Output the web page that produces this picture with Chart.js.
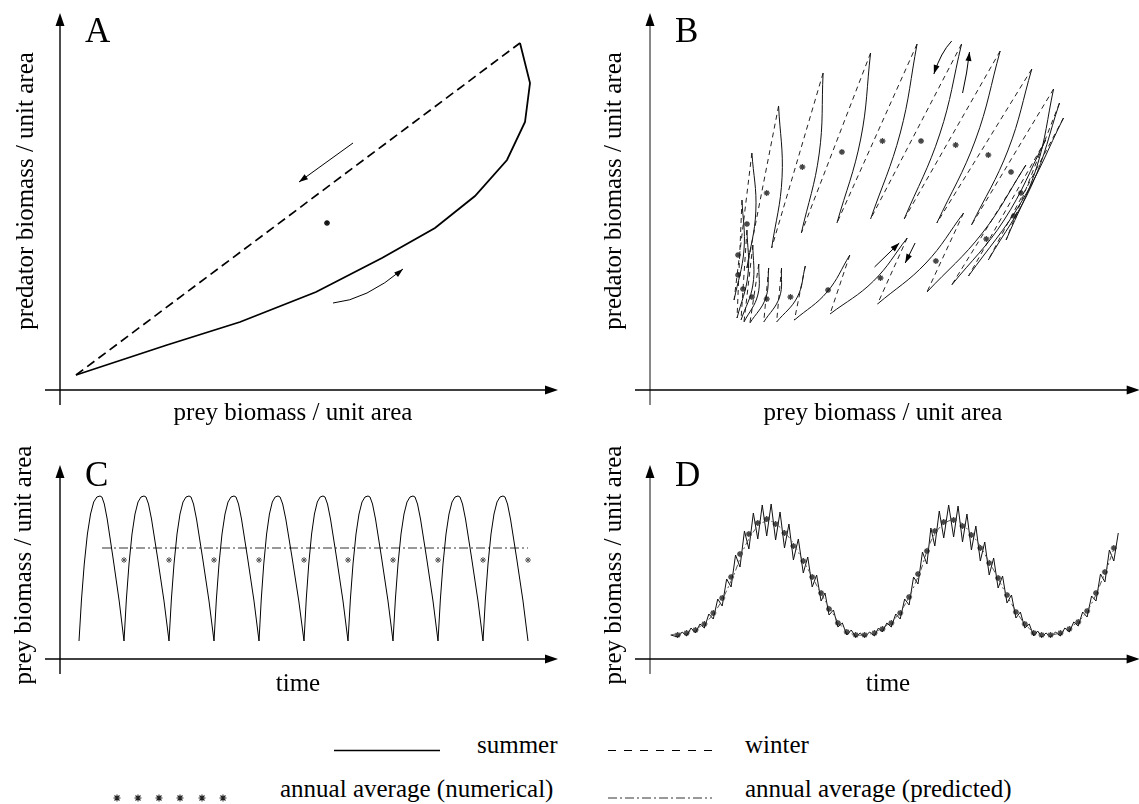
<!DOCTYPE html>
<html lang="en">
<head>
<meta charset="UTF-8">
<title>Seasonal predator-prey dynamics</title>
<script src="https://cdn.jsdelivr.net/npm/chart.js"></script>
<style>
  body { margin: 0; background: #fff; width: 1139px; height: 804px; overflow: hidden; position: relative; }
  canvas { position: absolute; }
  #legend { position: absolute; left: 0; top: 700px; font-family: "Liberation Serif", "Times New Roman", Times, "Nimbus Roman", "DejaVu Serif", serif; }
</style>
</head>
<body>
<canvas id="panelA" width="570" height="430" style="left:0;top:0"></canvas>
<canvas id="panelB" width="569" height="430" style="left:570px;top:0"></canvas>
<canvas id="panelC" width="570" height="260" style="left:0;top:440px"></canvas>
<canvas id="panelD" width="569" height="260" style="left:570px;top:440px"></canvas>

<svg id="legend" width="1139" height="104" font-size="25">
  <line x1="334" y1="50.5" x2="440" y2="50.5" stroke="#000" stroke-width="1.3"/>
  <text x="477" y="53">summer</text>
  <line x1="608" y1="50.5" x2="712" y2="50.5" stroke="#000" stroke-width="1.2" stroke-dasharray="8,8"/>
  <text x="745" y="53">winter</text>
  <g id="legendStars" stroke="#222" stroke-width="1.1"></g>
  <text x="280" y="97">annual average (numerical)</text>
  <line x1="608" y1="98" x2="712" y2="98" stroke="#333" stroke-width="1" stroke-dasharray="9,3,2,3"/>
  <text x="745" y="97">annual average (predicted)</text>
</svg>

<script>
// A: stable one-year cycle (prey, predator)
const aSummer = [[16,15],[107,45],[180,68],[256,98],[322,132],[375,162],[415,194],[447,230],[465,268],[470,307],[460,347]];
const aWinter = [[16,15],[460,347]];
const aAvg = [[267,167]];
const aArrows = [[[293,247],[239,208]], [[273,87],[307,97],[343,121]]];

// B: quasi-periodic orbit, one summer arc per year (start, middle, end)
const bSummer = [
  [[95,68],[109,95],[110,126]],
  [[101,67],[117,92],[120,122]],
  [[115,68],[131,93],[133,122]],
  [[128,68],[149,93],[157,124]],
  [[146,70],[179,98],[202,135]],
  [[182,76],[226,109],[260,152]],
  [[230,86],[279,127],[317,177]],
  [[280,98],[336,157],[380,225]],
  [[305,105],[358,170],[400,250]],
  [[322,114],[376,189],[418,272]],
  [[342,130],[386,205],[414,287]],
  [[360,150],[391,223],[408,301]],
  [[325,165],[362,240],[386,321]],
  [[290,167],[329,250],[354,339]],
  [[257,171],[293,256],[315,346]],
  [[223,171],[253,257],[270,346]],
  [[189,167],[213,251],[223,337]],
  [[153,157],[171,236],[175,317]],
  [[123,142],[133.5,212.5],[130,284]],
  [[98,122],[107,179],[103,237]],
  [[85,90],[95,140],[93,190]],
  [[88,72],[99,115],[98,160]],
  [[92,70],[104,105],[104,145]]
];
const bAvg = [[98,166],[118,197],[154,223],[194,238],[235,249],[274,249],[309,245],[342,235],[365,218],[375,197],
  [368,174],[340,151],[289,129],[233,112],[180,100],[142,93],[118,91],[103,93],[94,101],[89,115],[89,135]];
const bArrows = [[[305,349],[295,335],[287,316]], [[316,297],[320,317],[323,338]], [[227,123],[252,147]], [[268,147],[258,127]]];

// C: prey over time, one cycle per year
const cTroughs = [19,64,109,154,199,244,288,333,378,423,468];
const cPeaks = [40,84,129,174,218,263,308,353,398,443];
const cRise = [[0,18],[0.12,60],[0.25,95],[0.4,125],[0.55,145],[0.7,157],[0.85,162],[1,163]];
const cFall = [[0.08,162],[0.18,155],[0.3,140],[0.55,100],[0.8,58],[1,18]];
const cAvgT = [64,109,154,199,244,288,333,378,423,468];
const cAvg = [99,99,99,99,99,99,99,99,99,99];
const cPred = [[42,111],[468,111]];

// D: prey over time with a multi-year cycle
const dStart = [21,24];
const dT = [28,37,46,55,64,73,82,91,100,109,118,127,136,145,155,164,173,181,190,199,
  208,217,227,235,244,253,262,271,280,288,297,307,316,325,334,343,352,361,370,379,
  388,396,405,415,424,433,442,451,460,469];
const dAvg = [24,26,29,35,46,61,82,105,125,136,140,135,126,113,98,82,66,50,36,27,
  24,24,26,30,36,46,62,85,108,128,137,139,133,124,111,96,81,64,47,35,
  26,24,24,26,30,37,48,66,87,111];
const dLow = [22,23,26,31,40,53,72,92,110,120,123,119,111,99,86,72,58,44,32,24,
  22,22,23,27,32,40,54,75,95,113,121,122,117,109,98,84,71,56,41,31,
  23,22,22,23,27,33,42,58,77,98];
const dHigh = [27,31,35,45,60,80,104,128,146,154,155,147,135,120,102,84,66,49,36,29,
  26,27,31,36,45,60,82,107,131,148,154,153,145,133,117,101,83,64,47,35,
  28,26,27,31,37,47,63,85,109,126];
const dPred = [[21,24],[46,30],[64,45],[82,78],[100,120],[118,138],[136,127],[155,98],[181,52],[199,28],
  [217,24],[235,31],[253,47],[271,82],[288,125],[307,139],[325,125],[343,97],[370,48],[388,27],
  [405,24],[424,31],[442,48],[460,86],[469,110]];

const FONT = '"Liberation Serif", "Times New Roman", Times, "Nimbus Roman", "DejaVu Serif", serif';
const pt = p => ({ x: p[0], y: p[1] });

function lineSet(points, o) {
  return Object.assign({
    data: points.map(pt), showLine: true, pointRadius: 0, pointHoverRadius: 0,
    borderColor: '#000', borderWidth: 1, tension: 0, fill: false, clip: false
  }, o);
}
function starSet(points, o) {
  return Object.assign({
    data: points.map(pt), showLine: false, pointStyle: 'star', pointRadius: 3,
    borderColor: '#333', pointBorderColor: '#333', borderWidth: 1, pointBorderWidth: 1, clip: false
  }, o);
}

function arrowHead(ctx, x, y, ang, len, half) {
  const c = Math.cos(ang), s = Math.sin(ang);
  ctx.beginPath();
  ctx.moveTo(x, y);
  ctx.lineTo(x - len * c + half * s, y - len * s - half * c);
  ctx.lineTo(x - len * c - half * s, y - len * s + half * c);
  ctx.closePath();
  ctx.fill();
}

// axes with arrow heads, panel letter, axis titles and annotation arrows
function framePlugin(cfg) {
  return {
    id: 'frame' + cfg.letter,
    beforeDatasetsDraw(chart) {
      const ctx = chart.ctx, a = chart.chartArea;
      ctx.save();
      ctx.lineWidth = cfg.yAxisWidth;
      ctx.strokeStyle = cfg.yAxisColor;
      ctx.beginPath();
      ctx.moveTo(a.left, a.bottom + 15);
      ctx.lineTo(a.left, a.top + 8);
      ctx.stroke();
      ctx.fillStyle = '#000';
      arrowHead(ctx, a.left, a.top, -Math.PI / 2, 13, 4.5);
      ctx.lineWidth = 1.4;
      ctx.strokeStyle = '#000';
      ctx.beginPath();
      ctx.moveTo(a.left - 15, a.bottom);
      ctx.lineTo(a.right + cfg.tipOver - 8, a.bottom);
      ctx.stroke();
      arrowHead(ctx, a.right + cfg.tipOver, a.bottom, 0, 13, 4.5);
      ctx.restore();
    },
    afterDatasetsDraw(chart) {
      const ctx = chart.ctx, xs = chart.scales.x, ys = chart.scales.y;
      ctx.save();
      ctx.strokeStyle = '#000';
      ctx.fillStyle = '#000';
      ctx.lineWidth = 1;
      (cfg.arrows || []).forEach(arr => {
        const p = arr.map(q => [xs.getPixelForValue(q[0]), ys.getPixelForValue(q[1])]);
        const end = p[p.length - 1];
        let from;
        ctx.beginPath();
        ctx.moveTo(p[0][0], p[0][1]);
        if (p.length === 3) {
          const cx = 2 * p[1][0] - (p[0][0] + p[2][0]) / 2;
          const cy = 2 * p[1][1] - (p[0][1] + p[2][1]) / 2;
          ctx.quadraticCurveTo(cx, cy, end[0], end[1]);
          from = [cx, cy];
        } else {
          ctx.lineTo(end[0], end[1]);
          from = p[0];
        }
        ctx.stroke();
        arrowHead(ctx, end[0], end[1], Math.atan2(end[1] - from[1], end[0] - from[0]), 9, 3);
      });

      ctx.textBaseline = 'alphabetic';
      ctx.textAlign = 'left';
      ctx.font = '35px ' + FONT;
      ctx.fillText(cfg.letter, cfg.letterPos[0], cfg.letterPos[1]);
      ctx.font = '25px ' + FONT;
      ctx.textAlign = 'center';
      ctx.fillText(cfg.xTitle, cfg.xTitlePos[0], cfg.xTitlePos[1]);
      ctx.translate(cfg.yTitlePos[0], cfg.yTitlePos[1]);
      ctx.rotate(-Math.PI / 2);
      ctx.textBaseline = 'middle';
      ctx.fillText(cfg.yTitle, 0, 0);
      ctx.restore();
    }
  };
}

function makePanel(id, cfg) {
  return new Chart(document.getElementById(id), {
    type: 'scatter',
    data: { datasets: cfg.datasets },
    options: {
      responsive: false,
      animation: false,
      events: [],
      layout: { padding: cfg.pad },
      scales: {
        x: { type: 'linear', display: false, min: 0, max: cfg.xMax },
        y: { type: 'linear', display: false, min: 0, max: cfg.yMax }
      },
      plugins: { legend: { display: false }, tooltip: { enabled: false } }
    },
    plugins: [framePlugin(cfg)]
  });
}

// ---- A ----
makePanel('panelA', {
  letter: 'A', letterPos: [85, 42],
  xTitle: 'prey biomass / unit area', xTitlePos: [293, 420],
  yTitle: 'predator biomass / unit area', yTitlePos: [26, 191],
  yAxisColor: '#000', yAxisWidth: 1.4, tipOver: 0,
  pad: { left: 60, right: 12, top: 13, bottom: 40 }, xMax: 498, yMax: 377,
  arrows: aArrows,
  datasets: [
    lineSet(aSummer, { borderWidth: 1.8 }),
    lineSet(aWinter, { borderWidth: 1.7, borderDash: [9, 5] }),
    starSet(aAvg, { pointRadius: 3, borderColor: '#111', pointBorderColor: '#111', pointBorderWidth: 1.3 })
  ]
});

// ---- B ----
const bSets = [];
bSummer.forEach((arc, k) => {
  const next = bSummer[(k + 1) % bSummer.length];
  bSets.push(lineSet(arc, { tension: 0.4, borderWidth: 1, borderColor: '#111' }));
  bSets.push(lineSet([arc[2], next[0]], { borderWidth: 1, borderColor: '#222', borderDash: [5, 4] }));
});
bSets.push(starSet(bAvg, { pointRadius: 3, borderColor: '#444', pointBorderColor: '#444', pointBorderWidth: 1.3 }));
makePanel('panelB', {
  letter: 'B', letterPos: [105, 42],
  xTitle: 'prey biomass / unit area', xTitlePos: [313, 420],
  yTitle: 'predator biomass / unit area', yTitlePos: [44, 191],
  yAxisColor: '#888', yAxisWidth: 2, tipOver: 6,
  pad: { left: 80, right: 0, top: 13, bottom: 40 }, xMax: 489, yMax: 377,
  arrows: bArrows,
  datasets: bSets
});

// ---- C ----
const cCurve = [];
cPeaks.forEach((tp, k) => {
  const t0 = cTroughs[k], t1 = cTroughs[k + 1];
  cRise.forEach(([f, v], i) => { if (k === 0 || i > 0) cCurve.push([t0 + f * (tp - t0), v]); });
  cFall.forEach(([f, v]) => cCurve.push([tp + f * (t1 - tp), v]));
});
makePanel('panelC', {
  letter: 'C', letterPos: [85, 46],
  xTitle: 'time', xTitlePos: [298, 251],
  yTitle: 'prey biomass / unit area', yTitlePos: [24, 125],
  yAxisColor: '#000', yAxisWidth: 1.4, tipOver: 0,
  pad: { left: 60, right: 12, top: 25, bottom: 41 }, xMax: 498, yMax: 194,
  datasets: [
    lineSet(cCurve, { borderWidth: 1 }),
    lineSet(cPred, { borderWidth: 1, borderColor: '#333', borderDash: [9, 3, 2, 3] }),
    starSet(cAvgT.map((t, i) => [t, cAvg[i]]), { pointRadius: 3, borderColor: '#555', pointBorderColor: '#555' })
  ]
});

// ---- D ----
const dCurve = [dStart];
dT.forEach((t, k) => {
  dCurve.push([t, dLow[k]]);
  const next = k < dT.length - 1 ? dT[k + 1] : t + (t - dT[k - 1]);
  dCurve.push([(t + next) / 2, dHigh[k]]);
});
makePanel('panelD', {
  letter: 'D', letterPos: [105, 46],
  xTitle: 'time', xTitlePos: [318, 251],
  yTitle: 'prey biomass / unit area', yTitlePos: [44, 125],
  yAxisColor: '#888', yAxisWidth: 2, tipOver: 6,
  pad: { left: 80, right: 0, top: 25, bottom: 41 }, xMax: 489, yMax: 194,
  datasets: [
    lineSet(dPred, { borderWidth: 1, borderColor: '#555', borderDash: [6, 3, 2, 3], tension: 0.4 }),
    lineSet(dCurve, { borderWidth: 1, borderColor: '#111' }),
    starSet(dT.map((t, i) => [t, dAvg[i]]), { pointRadius: 3, borderColor: '#444', pointBorderColor: '#444', pointBorderWidth: 1.4 })
  ]
});

// legend asterisks
const legendStarX = [117, 138, 159, 180, 202, 223];
const g = document.getElementById('legendStars');
legendStarX.forEach(x => {
  const p = document.createElementNS('http://www.w3.org/2000/svg', 'path');
  p.setAttribute('d', `M${x - 3.5} 98h7M${x} 94.5v7M${x - 2.5} 95.5l5 5M${x - 2.5} 100.5l5 -5`);
  g.appendChild(p);
});
</script>
</body>
</html>
